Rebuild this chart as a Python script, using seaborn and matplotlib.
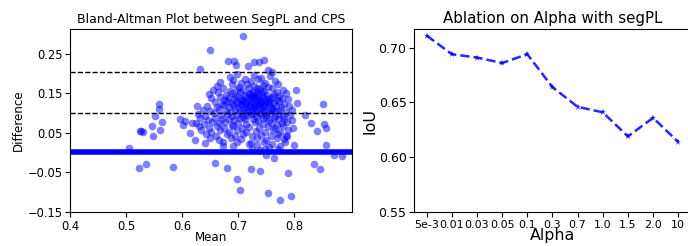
import numpy as np
import matplotlib
matplotlib.use("Agg")
import matplotlib.pyplot as plt
import seaborn as sns

# Bland-Altman data
mean_vals = [
    0.505, 0.523, 0.535, 0.524, 0.527, 0.529, 0.546, 0.548, 0.551, 0.558,
    0.559, 0.563, 0.560, 0.583, 0.595, 0.601, 0.605, 0.614, 0.617, 0.622,
    0.626, 0.631, 0.640, 0.649, 0.659, 0.673, 0.680, 0.682, 0.693, 0.695,
    0.697, 0.702, 0.708, 0.723, 0.718, 0.717, 0.727, 0.736, 0.738, 0.745,
    0.747, 0.749, 0.752, 0.752, 0.760, 0.764, 0.775, 0.774, 0.789, 0.794,
    0.799, 0.802, 0.805, 0.818, 0.829, 0.834, 0.840, 0.845, 0.851, 0.852,
    0.857, 0.857, 0.871, 0.885, 0.787,
    # dense cloud
    0.685, 0.698, 0.712, 0.728, 0.741, 0.757,
    0.668, 0.690, 0.705, 0.722, 0.735, 0.748, 0.766,
    0.662, 0.688, 0.701, 0.716, 0.727, 0.733, 0.744, 0.752, 0.771,
    0.655, 0.672, 0.685, 0.697, 0.708, 0.719, 0.726, 0.738, 0.746, 0.759, 0.768, 0.779,
    0.648, 0.664, 0.677, 0.689, 0.694, 0.703, 0.711, 0.721, 0.729, 0.734, 0.742, 0.751, 0.763, 0.772, 0.784,
    0.652, 0.668, 0.675, 0.682, 0.693, 0.700, 0.707, 0.714, 0.718, 0.725, 0.731, 0.739, 0.744, 0.753, 0.761, 0.769, 0.777, 0.788,
    0.658, 0.671, 0.679, 0.687, 0.696, 0.704, 0.709, 0.716, 0.723, 0.728, 0.736, 0.741, 0.748, 0.756, 0.764, 0.773, 0.781,
    0.644, 0.661, 0.674, 0.683, 0.691, 0.699, 0.706, 0.713, 0.720, 0.727, 0.733, 0.738, 0.746, 0.754, 0.760, 0.767, 0.776, 0.790,
    0.637, 0.650, 0.666, 0.678, 0.686, 0.694, 0.702, 0.710, 0.717, 0.724, 0.730, 0.737, 0.745, 0.751, 0.758, 0.766, 0.774, 0.785, 0.796,
    0.628, 0.641, 0.656, 0.669, 0.680, 0.689, 0.698, 0.707, 0.715, 0.722, 0.732, 0.740, 0.749, 0.757, 0.765, 0.772, 0.780, 0.792,
    0.632, 0.645, 0.659, 0.671, 0.684, 0.692, 0.703, 0.712, 0.726, 0.735, 0.744, 0.755, 0.763, 0.771, 0.782, 0.795,
    0.625, 0.639, 0.653, 0.665, 0.676, 0.688, 0.700, 0.714, 0.729, 0.743, 0.758, 0.768, 0.778, 0.787,
    0.630, 0.647, 0.662, 0.674, 0.691, 0.706, 0.719, 0.737, 0.752, 0.766, 0.779, 0.797,
    0.634, 0.651, 0.668, 0.683, 0.697, 0.713, 0.731, 0.747, 0.762, 0.775, 0.789,
    0.642, 0.660, 0.679, 0.694, 0.709, 0.724, 0.741, 0.758, 0.770, 0.784,
    0.649, 0.666, 0.687, 0.704, 0.733, 0.750, 0.768, 0.781,
    0.673, 0.698, 0.722, 0.745, 0.760, 0.783,
    0.690, 0.734, 0.754,
    0.725, 0.738, 0.770,
    # core
    0.705, 0.712, 0.718, 0.722, 0.730, 0.735, 0.740, 0.744, 0.748, 0.752,
    0.715, 0.728, 0.738, 0.745, 0.757, 0.733, 0.719, 0.727, 0.700, 0.762,
    0.708, 0.750, 0.740, 0.724, 0.731,
]
diff_vals = [
    0.012, -0.040, -0.029, 0.054, 0.055, 0.053, 0.066, 0.043, 0.092, 0.109,
    0.124, 0.077, 0.058, -0.037, 0.086, 0.069, 0.079, 0.050, 0.075, 0.033,
    0.117, 0.210, 0.024, 0.260, -0.026, 0.016, -0.039, 0.232, 0.232, 0.220,
    -0.067, -0.095, 0.294, -0.041, 0.023, 0.218, 0.230, 0.228, -0.046, 0.233,
    0.008, -0.005, -0.102, 0.208, 0.203, -0.014, 0.016, -0.119, -0.052, -0.110,
    0.019, 0.159, 0.125, 0.096, 0.075, -0.029, 0.054, -0.041, 0.124, 0.073,
    0.019, 0.062, -0.006, -0.009, 0.041,
    # dense cloud
    0.192, 0.198, 0.187, 0.196, 0.189, 0.194,
    0.178, 0.184, 0.175, 0.182, 0.186, 0.176, 0.181,
    0.168, 0.172, 0.165, 0.174, 0.169, 0.163, 0.171, 0.166, 0.173,
    0.158, 0.162, 0.155, 0.161, 0.157, 0.163, 0.154, 0.160, 0.156, 0.162, 0.153, 0.158,
    0.147, 0.152, 0.145, 0.150, 0.144, 0.153, 0.146, 0.151, 0.143, 0.149, 0.152, 0.145, 0.148, 0.143, 0.150,
    0.138, 0.141, 0.134, 0.139, 0.136, 0.142, 0.133, 0.140, 0.135, 0.141, 0.137, 0.132, 0.139, 0.135, 0.141, 0.133, 0.138, 0.136,
    0.128, 0.124, 0.131, 0.126, 0.129, 0.123, 0.130, 0.125, 0.128, 0.122, 0.127, 0.131, 0.124, 0.129, 0.125, 0.130, 0.123,
    0.118, 0.114, 0.121, 0.116, 0.119, 0.113, 0.120, 0.115, 0.118, 0.112, 0.117, 0.121, 0.114, 0.119, 0.113, 0.118, 0.115, 0.117,
    0.108, 0.104, 0.110, 0.106, 0.102, 0.109, 0.105, 0.111, 0.103, 0.108, 0.104, 0.110, 0.106, 0.102, 0.109, 0.105, 0.108, 0.103, 0.107,
    0.097, 0.093, 0.099, 0.095, 0.098, 0.092, 0.096, 0.100, 0.094, 0.098, 0.092, 0.097, 0.094, 0.099, 0.093, 0.097, 0.092, 0.095,
    0.087, 0.083, 0.088, 0.084, 0.086, 0.082, 0.088, 0.084, 0.086, 0.081, 0.087, 0.083, 0.088, 0.084, 0.086, 0.082,
    0.076, 0.072, 0.078, 0.074, 0.077, 0.071, 0.076, 0.073, 0.077, 0.072, 0.076, 0.071, 0.075, 0.078,
    0.066, 0.062, 0.067, 0.063, 0.066, 0.061, 0.065, 0.062, 0.067, 0.063, 0.066, 0.062,
    0.056, 0.052, 0.057, 0.053, 0.056, 0.051, 0.055, 0.052, 0.057, 0.053, 0.056,
    0.046, 0.042, 0.047, 0.043, 0.046, 0.041, 0.045, 0.042, 0.047, 0.043,
    0.036, 0.033, 0.037, 0.034, 0.036, 0.032, 0.037, 0.034,
    0.026, 0.028, 0.024, 0.027, 0.023, 0.026,
    0.016, 0.018, 0.015,
    0.008, 0.006, 0.009,
    # core
    0.135, 0.127, 0.148, 0.139, 0.132, 0.142, 0.125, 0.145, 0.133, 0.127,
    0.108, 0.116, 0.101, 0.118, 0.137, 0.155, 0.121, 0.098, 0.125, 0.108,
    0.090, 0.088, 0.112, 0.145, 0.125,
]
mean_diff = 0.002
band_lines = [0.101, 0.203]

# ablation data
alpha_labels = ["5e-3", "0.01", "0.03", "0.05", "0.1", "0.3", "0.7", "1.0", "1.5", "2.0", "10"]
iou_vals = [0.711, 0.694, 0.691, 0.686, 0.694, 0.664, 0.646, 0.641, 0.619, 0.636, 0.614]

fig = plt.figure(figsize=(6.88, 2.46), dpi=100)
ax1 = fig.add_axes([0.102, 0.138, 0.410, 0.744])
ax2 = fig.add_axes([0.602, 0.138, 0.402, 0.744])

sns.scatterplot(x=mean_vals, y=diff_vals, ax=ax1, color="blue", alpha=0.5,
                s=30, linewidth=0)
ax1.axhline(mean_diff, color="blue", lw=4)
for v in band_lines:
    ax1.axhline(v, color="black", ls="--", lw=1)
ax1.set_xlim(0.4, 0.903)
ax1.set_ylim(-0.15, 0.312)
ax1.set_xticks([0.4, 0.5, 0.6, 0.7, 0.8])
ax1.set_yticks([-0.15, -0.05, 0.05, 0.15, 0.25])
ax1.tick_params(labelsize=8.3, pad=2)
ax1.set_title("Bland-Altman Plot between SegPL and CPS", fontsize=9, pad=4)
ax1.set_xlabel("Mean", fontsize=8.6, labelpad=-1)
ax1.set_ylabel("Difference", fontsize=8.6, labelpad=2)

sns.lineplot(x=alpha_labels, y=iou_vals, ax=ax2, color="blue", alpha=0.85,
             lw=1.8, ls="--", marker="*", markersize=5, markeredgewidth=0)
ax2.set_xlim(-0.5, 10.5)
ax2.set_ylim(0.55, 0.717)
ax2.set_yticks([0.55, 0.60, 0.65, 0.70])
ax2.tick_params(axis="x", labelsize=8, pad=2)
ax2.tick_params(axis="y", labelsize=9, pad=2)
ax2.set_title("Ablation on Alpha with segPL", fontsize=10.8, pad=4)
ax2.set_xlabel("Alpha", fontsize=11.4, labelpad=-1)
ax2.set_ylabel("IoU", fontsize=11.4, labelpad=1)

fig.savefig("out.png", dpi=100)
